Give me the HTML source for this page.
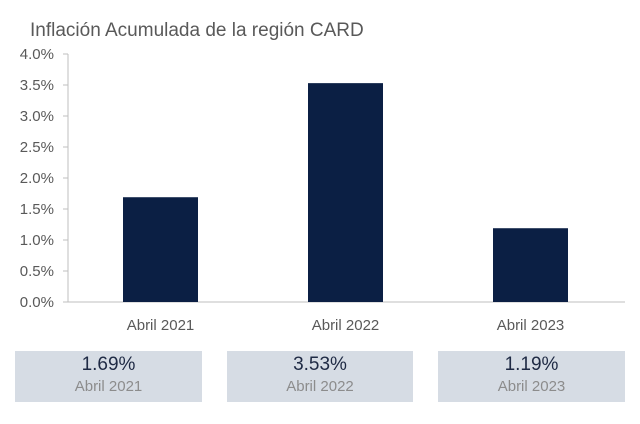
<!DOCTYPE html>
<html><head><meta charset="utf-8"><style>
body{margin:0;background:#fff;font-family:"Liberation Sans",sans-serif}
.box{position:absolute;top:351px;height:51px;background:#d6dce4;text-align:center}
.v{font-size:19px;color:#1f2a44;margin-top:3px;height:24px}
.l{font-size:15px;color:#8c8c8c}
</style></head><body>
<div style="position:relative;width:640px;height:424px">
<svg width="640" height="424" style="position:absolute;left:0;top:0">
<text x="30" y="36" font-size="19" fill="#595959" font-family="Liberation Sans">Inflación Acumulada de la región CARD</text>
<g id="yaxis"></g><g id="bars"></g>
</svg>
<div id="boxes"></div>
</div>
<script>
const categories=["Abril 2021","Abril 2022","Abril 2023"];
const values=[1.69,3.53,1.19];
const ticks=[0,0.5,1,1.5,2,2.5,3,3.5,4];
const y0=302,y1=54,yMax=4;
const y=v=>y0-(v/yMax)*(y0-y1);
const x=i=>123+i*185;
const ns="http://www.w3.org/2000/svg";
const ya=document.getElementById("yaxis"),bg=document.getElementById("bars");
function mk(tag,at,p){const e=document.createElementNS(ns,tag);for(const k in at)e.setAttribute(k,at[k]);p.appendChild(e);return e;}
let ax=mk("line",{x1:68,y1:y1,x2:68,y2:y0,stroke:"#bfbfbf"},ya);


let bx=mk("line",{x1:63,y1:y0,x2:625,y2:y0,stroke:"#bfbfbf"},ya);


ticks.forEach(t=>{
 const l=mk("line",{x1:63,y1:y(t),x2:68,y2:y(t),stroke:"#bfbfbf"},ya);
 
 
 const tx=mk("text",{x:54,y:y(t)+5,"text-anchor":"end","font-size":15,fill:"#595959","font-family":"Liberation Sans"},ya);
 tx.textContent=t.toFixed(1)+"%";
 
 
});
const boxL=[15,227,438],boxW=[187,186,187];
const bd=document.getElementById("boxes");
values.forEach((v,i)=>{
 const r=mk("rect",{x:x(i),y:y(v),width:75,height:y0-y(v),fill:"#0b1f44"},bg);
 
 
 const t=mk("text",{x:x(i)+37.5,y:330,"text-anchor":"middle","font-size":15,fill:"#595959","font-family":"Liberation Sans"},bg);
 t.textContent=categories[i];
 
 
 const d=document.createElement("div");
 d.className="box";d.style.left=boxL[i]+"px";d.style.width=boxW[i]+"px";
 
 
 d.innerHTML='<div class="v">'+v.toFixed(2)+'%</div><div class="l">'+categories[i]+'</div>';
 bd.appendChild(d);
});
</script>
</body></html>
